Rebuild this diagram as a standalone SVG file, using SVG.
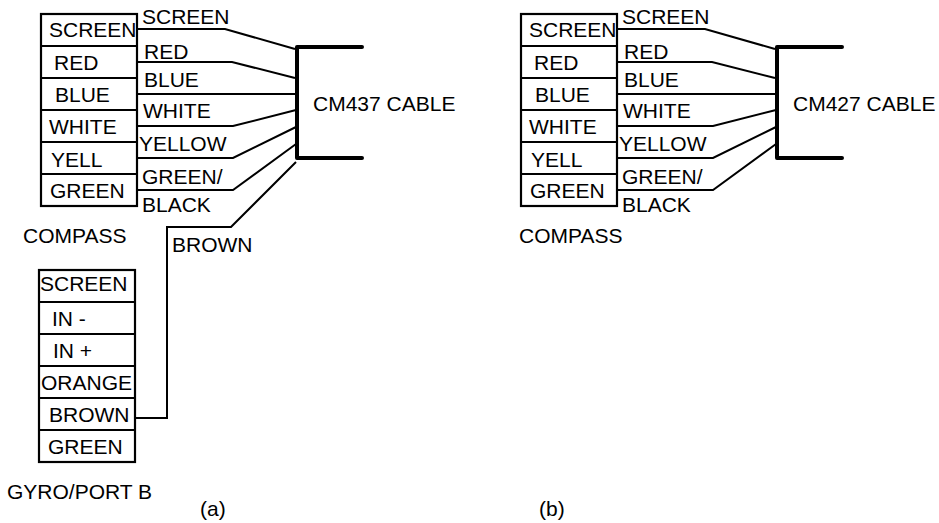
<svg xmlns="http://www.w3.org/2000/svg" width="939" height="523" viewBox="0 0 939 523">
<style>
text{font-family:"Liberation Sans",Arial,sans-serif;font-size:21px;fill:#000}
.b{fill:#fff;stroke:#000;stroke-width:2.2}
.r{fill:none;stroke:#000;stroke-width:2.2}
.w{fill:none;stroke:#000;stroke-width:2}
.c{fill:none;stroke:#000;stroke-width:4;stroke-linecap:round;stroke-linejoin:round}
</style>
<rect width="939" height="523" fill="#fff"/>
<defs>
<g id="wires">
<path class="w" d="M137 29H225L295 49M137 62H232L295 78M137 94H296M137 126H233L296 110M137 158H233L296 127M137 190H233L296 144"/>
<path class="c" d="M362 47H297V158H362"/>
</g>
<g id="compassBox">
<rect class="b" x="41" y="14" width="96" height="192"/>
<path class="r" d="M41 46H137M41 78H137M41 110H137M41 142H137M41 174H137"/>
</g>
</defs>
<g id="connectors-a">
<use href="#wires"/>
<path class="w" d="M136 418H167V227H231L296 162"/>
</g>
<g id="connectors-b">
<use href="#wires" x="480"/>
</g>
<g id="compass-a">
<use href="#compassBox"/>
<text x="49" y="37">SCREEN</text><text x="54" y="70">RED</text><text x="55" y="102">BLUE</text><text x="49" y="134">WHITE</text><text x="51" y="167">YELL</text><text x="50" y="198">GREEN</text>
</g>
<g id="compass-a-labels">
<text x="142" y="24">SCREEN</text><text x="144" y="59">RED</text><text x="144" y="87">BLUE</text><text x="143" y="118">WHITE</text><text x="139" y="151">YELLOW</text><text x="142" y="184">GREEN/</text><text x="142" y="212">BLACK</text>
<text x="23" y="243">COMPASS</text><text x="172" y="252">BROWN</text>
<text x="313" y="111">CM437 CABLE</text>
</g>
<g id="gyro">
<rect class="b" x="39" y="270" width="96" height="192"/>
<path class="r" d="M39 302H135M39 334H135M39 366H135M39 398H135M39 430H135"/>
<text x="40" y="291">SCREEN</text><text x="52" y="326">IN -</text><text x="53" y="358">IN +</text><text x="41" y="390">ORANGE</text><text x="49" y="422">BROWN</text><text x="48" y="454">GREEN</text>
<text x="7" y="499">GYRO/PORT B</text>
</g>
<g id="compass-b">
<use href="#compassBox" x="480"/>
<text x="529" y="37">SCREEN</text><text x="534" y="70">RED</text><text x="535" y="102">BLUE</text><text x="529" y="134">WHITE</text><text x="531" y="167">YELL</text><text x="530" y="198">GREEN</text>
</g>
<g id="compass-b-labels">
<text x="622" y="24">SCREEN</text><text x="624" y="59">RED</text><text x="624" y="87">BLUE</text><text x="623" y="118">WHITE</text><text x="619" y="151">YELLOW</text><text x="622" y="184">GREEN/</text><text x="622" y="212">BLACK</text>
<text x="519" y="243">COMPASS</text>
<text x="793" y="111">CM427 CABLE</text>
</g>
<text x="200" y="516">(a)</text>
<text x="539" y="516">(b)</text>
</svg>
